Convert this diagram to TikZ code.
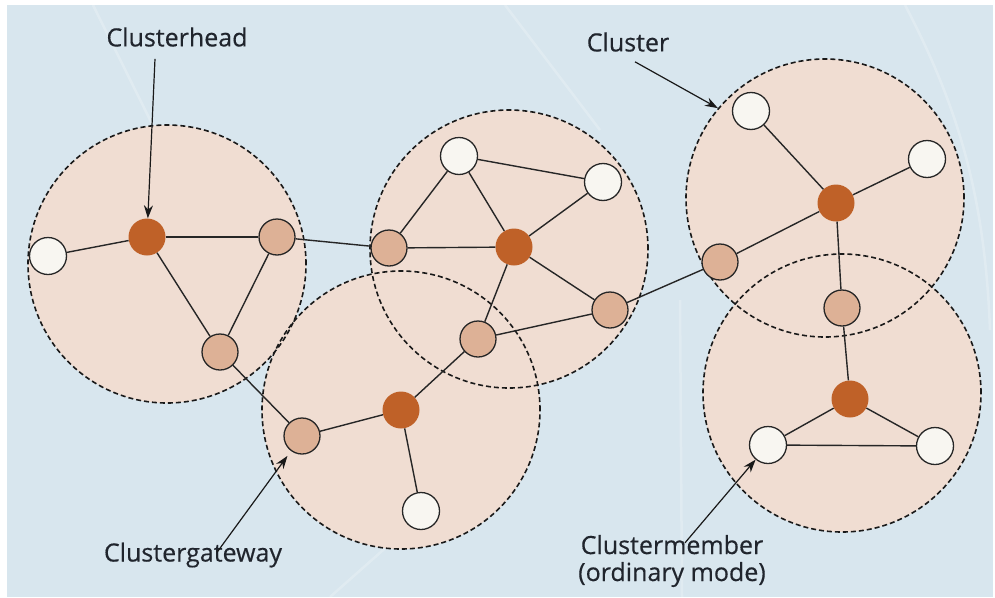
\documentclass[tikz,border=0pt]{standalone}
\usepackage{fontspec}
\setmainfont{Open Sans}
\newfontfamily\labfont{Open Sans}[FakeBold=0.4]
\usetikzlibrary{arrows.meta}
\definecolor{bg}{HTML}{D8E6EE}
\definecolor{clfill}{HTML}{F0DDD2}
\definecolor{headc}{HTML}{BF6128}
\definecolor{gatec}{HTML}{DDB196}
\definecolor{memc}{HTML}{F8F6F1}
\definecolor{txt}{HTML}{20252D}
\begin{document}
\begin{tikzpicture}[x=1pt,y=-1pt,
 cluster/.style={circle,minimum size=278pt,inner sep=0pt,fill=clfill},
 clborder/.style={circle,minimum size=278pt,inner sep=0pt,draw=black!90,dash pattern=on 5pt off 3pt,line width=1.6pt},
 head/.style={circle,minimum size=37pt,inner sep=0pt,fill=headc},
 gate/.style={circle,minimum size=36pt,inner sep=0pt,fill=gatec,draw=black!85,line width=1.3pt},
 member/.style={circle,minimum size=37pt,inner sep=0pt,fill=memc,draw=black!85,line width=1.3pt},
 link/.style={draw=black!85,line width=1.4pt},
 arr/.style={draw=black!90,line width=1.2pt,-{Stealth[length=13pt,width=9pt]}},
 faint/.style={draw=white,opacity=0.22,line width=2.5pt},
 lab/.style={font=\labfont\fontsize{25}{27}\selectfont,text=txt,align=center,inner sep=0pt}]
% background
\fill[white] (0,0) rectangle (995,597);
\fill[bg] (7,5) rectangle (993,597);
\useasboundingbox (0,0) rectangle (995,597);
\draw[faint] (93,5) -- (165,150);
\draw[faint] (505,5) -- (600,130);
\draw[faint] (905,5) .. controls (960,110) and (985,200) .. (990,330);
\draw[faint] (680,300) -- (682,597);
\draw[faint] (330,597) -- (530,420);
% clusters
\node[cluster] (c1) at (167,264) {};
\node[cluster] (c2) at (509,249) {};
\node[cluster] (c3) at (401,410) {};
\node[cluster] (c4) at (825,198) {};
\node[cluster] (c5) at (842,393) {};
\node[clborder] (c1b) at (c1) {};
\node[clborder] (c2b) at (c2) {};
\node[clborder] (c3b) at (c3) {};
\node[clborder] (c4b) at (c4) {};
\node[clborder] (c5b) at (c5) {};
% nodes
\node[member] (w1) at (48,256) {};
\node[head] (h1) at (147,237) {};
\node[gate] (g1a) at (277,237) {};
\node[gate] (g1b) at (220,352) {};
\node[member] (w2a) at (459,156) {};
\node[member] (w2b) at (603,182) {};
\node[gate] (g2a) at (389,248) {};
\node[head] (h2) at (514,247) {};
\node[gate] (g2b) at (610,310) {};
\node[gate] (g2c) at (478,339) {};
\node[gate] (g3a) at (302,436) {};
\node[head] (h3) at (401,410) {};
\node[member] (w3) at (421,511) {};
\node[member] (w4a) at (751,111) {};
\node[member] (w4b) at (927,159) {};
\node[head] (h4) at (836,203) {};
\node[gate] (g4a) at (720,262) {};
\node[gate] (g5a) at (842,308) {};
\node[head] (h5) at (850,399) {};
\node[member] (w5a) at (768,445) {};
\node[member] (w5b) at (935,446) {};
% links
\draw[link] (w1) -- (h1);
\draw[link] (h1) -- (g1a);
\draw[link] (h1) -- (g1b);
\draw[link] (g1a) -- (g1b);
\draw[link] (g1a) -- (g2a);
\draw[link] (g1b) -- (g3a);
\draw[link] (w2a) -- (g2a);
\draw[link] (w2a) -- (h2);
\draw[link] (w2a) -- (w2b);
\draw[link] (w2b) -- (h2);
\draw[link] (g2a) -- (h2);
\draw[link] (h2) -- (g2b);
\draw[link] (h2) -- (g2c);
\draw[link] (g2c) -- (g2b);
\draw[link] (g2c) -- (h3);
\draw[link] (g3a) -- (h3);
\draw[link] (h3) -- (w3);
\draw[link] (g2b) -- (g4a);
\draw[link] (w4a) -- (h4);
\draw[link] (w4b) -- (h4);
\draw[link] (g4a) -- (h4);
\draw[link] (h4) -- (g5a);
\draw[link] (g5a) -- (h5);
\draw[link] (h5) -- (w5a);
\draw[link] (h5) -- (w5b);
\draw[link] (w5a) -- (w5b);
% labels
\node[lab] (lhead) at (177,37) {Clusterhead};
\node[lab] (lcluster) at (628,42) {Cluster};
\node[lab] (lgate) at (193,555) {Clustergateway};
\node[lab] (lmember) at (672,561) {Clustermember\\(ordinary mode)};
\draw[arr] ([xshift=-22pt,yshift=-12pt]lhead.south) -- (h1);
\draw[arr] ([xshift=7pt,yshift=-10pt]lcluster.south) -- (c4b.140);
\draw[arr,shorten >=6pt] ([xshift=24pt,yshift=-10pt]lgate.north) -- (g3a);
\draw[arr] ([xshift=13pt,yshift=-8pt]lmember.north) -- (w5a);
\end{tikzpicture}
\end{document}
